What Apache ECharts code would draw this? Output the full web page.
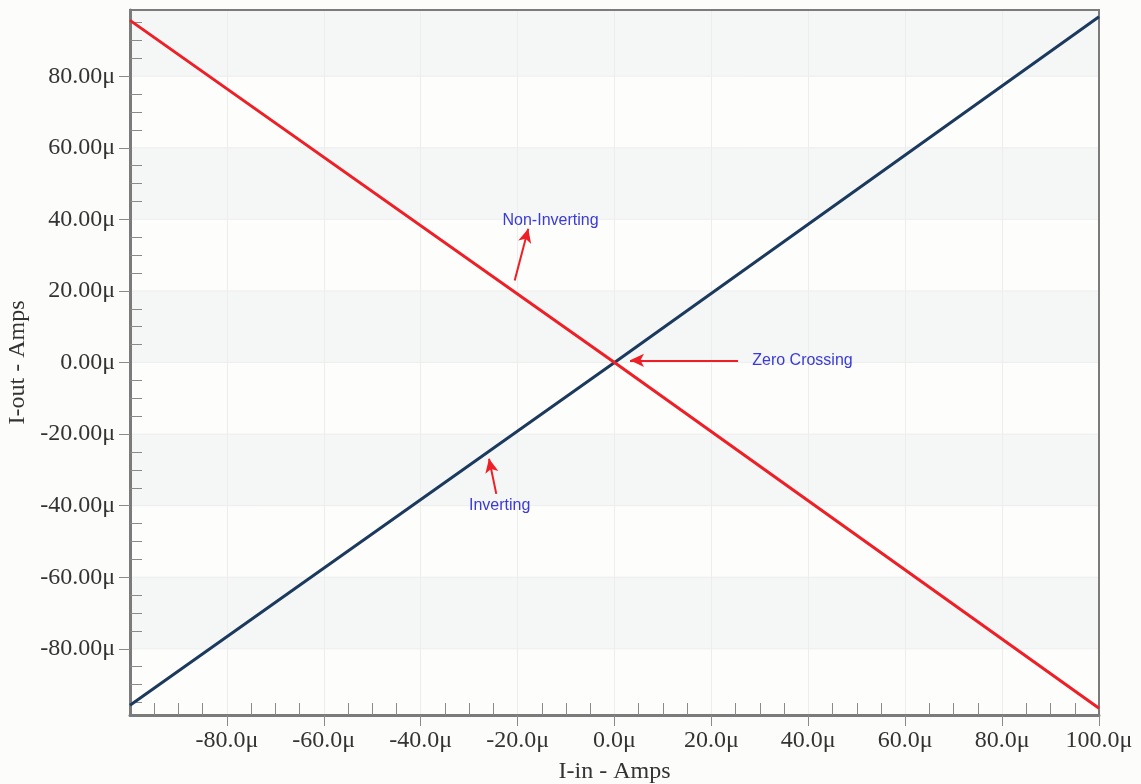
<!DOCTYPE html>
<html>
<head>
<meta charset="utf-8">
<script src="https://cdn.jsdelivr.net/npm/echarts@6/dist/echarts.min.js"></script>
<style>
html,body{margin:0;padding:0;background:#fcfcfa;}
#chart{width:1141px;height:784px;}
</style>
</head>
<body>
<div id="chart"></div>
<script>
// ---- data (μA) ----
const invertingX = [-100, 0, 100];
const invertingY = [-95.8, 0, 96.6];
const nonInvertingX = [-100, 0, 100];
const nonInvertingY = [95.6, 0, -96.6];

const xMajorTicks = [-80, -60, -40, -20, 0, 20, 40, 60, 80, 100];
const xMinorTicks = [-95, -90, -85, -75, -70, -65, -55, -50, -45, -35, -30, -25, -15, -10, -5,
                     5, 10, 15, 25, 30, 35, 45, 50, 55, 65, 70, 75, 85, 90, 95];
const yMajorTicks = [-80, -60, -40, -20, 0, 20, 40, 60, 80];
const yMinorTicks = [-95, -90, -85, -75, -70, -65, -55, -50, -45, -35, -30, -25, -15, -10, -5,
                     5, 10, 15, 25, 30, 35, 45, 50, 55, 65, 70, 75, 85, 90, 95];
const xRange = [-100, 100];
const yRange = [-98.5, 98.5];
const shadedBands = [[80, 98.5], [40, 60], [0, 20], [-40, -20], [-80, -60]];

// annotations: [label, textX, textY, arrowFromX, arrowFromY, arrowToX, arrowToY]
const annotations = [
  ['Non-Inverting', -13.2, 39.6, -20.6, 22.9, -17.8, 37.4],
  ['Zero Crossing', 38.8, 0.5, 25.5, 0.6, 3.2, 0.6],
  ['Inverting', -23.7, -39.9, -24.4, -36.7, -25.9, -26.9]
];

const serif = 'Liberation Serif';
const axisColor = '#7b7b7b';
const chart = echarts.init(document.getElementById('chart'));

function pairs(xs, ys) { return xs.map((x, i) => [x, ys[i]]); }

const borderAxis = (pos, range) => ({
  type: 'value', min: range[0], max: range[1], position: pos, z: 2,
  axisLine: { show: true, onZero: false, lineStyle: { color: axisColor, width: 2 } },
  axisTick: { show: false }, axisLabel: { show: false }, splitLine: { show: false }
});

const option = {
  backgroundColor: '#fcfcfa',
  animation: false,
  grid: {
    left: 130, right: 42, top: 10, bottom: 69,
    outerBoundsMode: 'none', containLabel: false,
    show: true, backgroundColor: '#fdfdfc', borderColor: axisColor, borderWidth: 2
  },
  xAxis: [
    {
      type: 'value', min: xRange[0], max: xRange[1], interval: 20, position: 'bottom', z: 2,
      name: 'I-in - Amps', nameLocation: 'middle', nameGap: 45,
      nameTextStyle: { fontFamily: serif, fontSize: 24, color: '#333' },
      axisLine: { show: true, onZero: false, lineStyle: { color: axisColor, width: 3 } },
      axisTick: { show: true, customValues: xMajorTicks, length: 11, lineStyle: { color: '#8a8a8a', width: 1 } },
      axisLabel: {
        customValues: xMajorTicks, margin: 14, fontFamily: serif, fontSize: 24, color: '#333',
        formatter: v => v.toFixed(1) + 'μ'
      },
      splitLine: { show: true, lineStyle: { color: '#ededeb', width: 1 } }
    },
    {
      type: 'value', min: xRange[0], max: xRange[1], position: 'bottom', z: 2,
      axisLine: { show: false, onZero: false },
      axisTick: { show: true, inside: true, customValues: xMinorTicks, length: 12, lineStyle: { color: '#8a8a8a', width: 1 } },
      axisLabel: { show: false },
      splitLine: { show: false }
    },
    borderAxis('top', xRange)
  ],
  yAxis: [
    {
      type: 'value', min: yRange[0], max: yRange[1], position: 'left', z: 2,
      name: 'I-out - Amps', nameLocation: 'middle', nameGap: 93,
      nameTextStyle: { fontFamily: serif, fontSize: 24, color: '#333' },
      axisLine: { show: true, onZero: false, lineStyle: { color: axisColor, width: 3 } },
      axisTick: { show: true, customValues: yMajorTicks, length: 11, lineStyle: { color: '#8a8a8a', width: 1 } },
      axisLabel: {
        customValues: yMajorTicks, margin: 15, fontFamily: serif, fontSize: 24, color: '#333',
        formatter: v => v.toFixed(2) + 'μ'
      },
      splitLine: { show: false }
    },
    {
      type: 'value', min: yRange[0], max: yRange[1], position: 'left', z: 2,
      axisLine: { show: false, onZero: false },
      axisTick: { show: true, inside: true, customValues: yMinorTicks, length: 12, lineStyle: { color: '#8a8a8a', width: 1 } },
      axisLabel: { show: false },
      splitLine: { show: false }
    },
    borderAxis('right', yRange)
  ],
  series: [
    {
      name: 'bands', type: 'line', data: [], z: 1, silent: true,
      markArea: {
        silent: true, z: 1,
        itemStyle: { color: '#f5f6f6', borderColor: '#eeeeee', borderWidth: 1 },
        data: shadedBands.map(b => [{ yAxis: b[0] }, { yAxis: b[1] }])
      }
    },
    {
      name: 'Inverting', type: 'line', z: 3, showSymbol: false, symbol: 'none',
      data: pairs(invertingX, invertingY),
      lineStyle: { color: '#1c3a5e', width: 3 }
    },
    {
      name: 'Non-Inverting', type: 'line', z: 4, showSymbol: false, symbol: 'none',
      data: pairs(nonInvertingX, nonInvertingY),
      lineStyle: { color: '#ee1f26', width: 3 }
    },
    {
      name: 'annotations', type: 'line', data: [], z: 5, silent: true,
      markLine: {
        silent: true, animation: false,
        symbol: ['none', 'arrow'], symbolSize: [10, 14],
        label: { show: false },
        lineStyle: { color: '#ee1f26', width: 2, type: 'solid' },
        data: annotations.map(a => [{ coord: [a[3], a[4]] }, { coord: [a[5], a[6]] }])
      },
      markPoint: {
        silent: true, symbol: 'circle', symbolSize: 0,
        label: {
          show: true, position: 'inside', color: '#3a3ad8',
          fontFamily: 'Liberation Sans', fontSize: 16,
          formatter: p => p.name
        },
        data: annotations.map(a => ({ name: a[0], coord: [a[1], a[2]] }))
      }
    }
  ]
};
chart.setOption(option);
</script>
</body>
</html>
